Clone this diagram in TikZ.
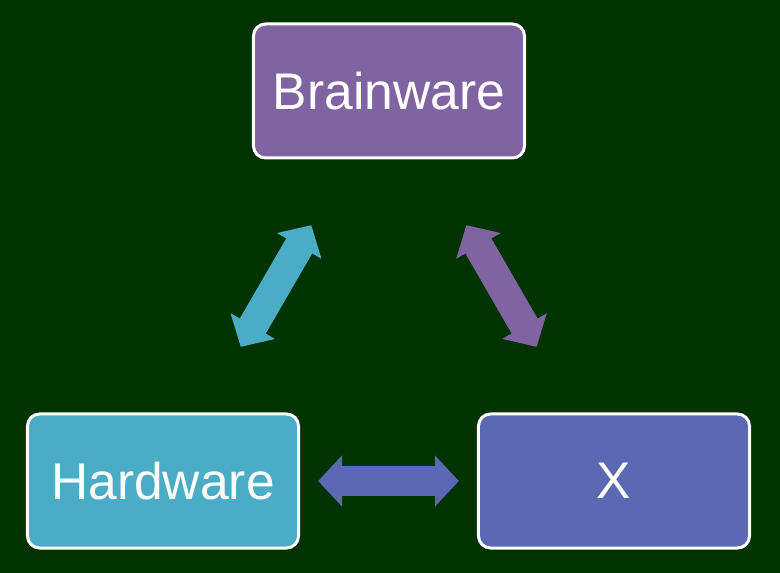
\documentclass[tikz,border=0pt]{standalone}
\usepackage{fontspec}
\setmainfont{Liberation Sans}
\usepackage{tikz}
\definecolor{bgdark}{RGB}{0,51,0}
\definecolor{brainpurple}{RGB}{128,100,162}
\definecolor{hardcyan}{RGB}{75,172,198}
\definecolor{xblue}{RGB}{91,104,180}
\usetikzlibrary{arrows.meta,positioning,calc}

\begin{document}
\begin{tikzpicture}[
    x=0.03cm, y=-0.03cm,
    box/.style={rectangle, draw=white, line width=0.09cm, rounded corners=0.36cm, minimum width=8.13cm, minimum height=4.02cm, text=white, font=\fontsize{44}{52}\selectfont},
    brain/.style={box, fill=brainpurple},
    hard/.style={box, fill=hardcyan},
    xbox/.style={box, fill=xblue},
    blockarrow/.style={line width=0.9cm, {Triangle[length=0.72cm, width=1.5cm]}-{Triangle[length=0.72cm, width=1.5cm]}}
]

% background
\fill[bgdark] (0,0) rectangle (780,573);
\useasboundingbox (0,0) rectangle (780,573);

\node[brain] (brainware) at (389,91) {Brainware};
\node[hard] (hardware) at (163,481) {Hardware};
\node[xbox] (x) at (614,481) {X};

\draw[blockarrow, hardcyan] ($(hardware)!0.344!(brainware)$) -- ($(hardware)!0.656!(brainware)$);
\draw[blockarrow, brainpurple] ($(x)!0.344!(brainware)$) -- ($(x)!0.656!(brainware)$);
\draw[blockarrow, xblue] ($(hardware)!0.344!(x)$) -- ($(hardware)!0.656!(x)$);

\end{tikzpicture}
\end{document}
